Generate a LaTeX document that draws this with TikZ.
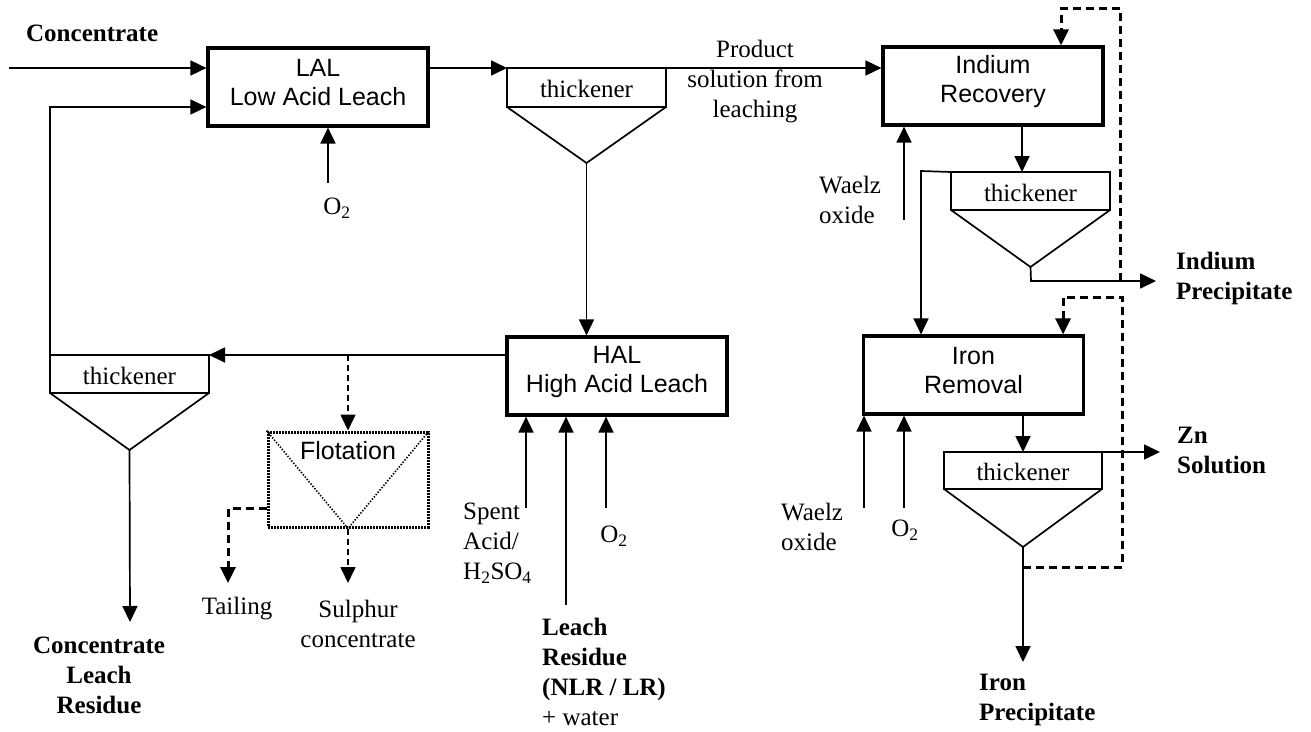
\documentclass[tikz,border=0pt]{standalone}
\usepackage{fontspec}
\setmainfont{Liberation Serif}
\setsansfont{Liberation Sans}
\usetikzlibrary{arrows.meta,calc}
\tikzset{
 ln/.style={line width=1.7pt},
 tip/.style={-{Triangle[length=16pt,width=15pt]}},
 arr/.style={ln,tip},
 box/.style={draw,line width=3.2pt,minimum width=220pt,minimum height=78pt,inner sep=0pt},
 btx/.style={align=center,font=\sffamily\fontsize{25}{29}\selectfont,inner sep=0pt},
 txt/.style={align=center,font=\fontsize{25}{30}\selectfont,inner sep=0pt},
 btxt/.style={align=center,font=\bfseries\fontsize{25}{30}\selectfont,inner sep=0pt},
 dsh/.style={line width=3pt,dash pattern=on 8pt off 5pt},
 tdsh/.style={line width=1.7pt,dash pattern=on 6pt off 4pt},
}
\newcommand{\thk}[6]{%
 \coordinate (#1tl) at (#2,#4);
 \coordinate (#1tr) at (#3,#4);
 \coordinate (#1bl) at (#2,#5);
 \coordinate (#1br) at (#3,#5);
 \coordinate (#1ap) at ({(#2+#3)/2},#6);
 \draw[ln] (#1tl) rectangle (#1br);
 \draw[ln] (#1bl) -- (#1ap) -- (#1br);
 \node[txt] (#1txt) at ($(#1tl)!0.5!(#1br)+(0,1.5)$) {thickener};
}
\begin{document}
\begin{tikzpicture}[x=1pt,y=-1pt]
\useasboundingbox (0,0) rectangle (1311,731);
% boxes
\node[box] (LAL) at (318,87) {};
\node[btx] (LALt) at ($(LAL.center)+(0,-4)$) {LAL\\Low Acid Leach};
\node[box] (HAL) at (617,376) {};
\node[btx] (HALt) at ($(HAL.center)+(0,-4)$) {HAL\\High Acid Leach};
\node[box] (IND) at (993,86) {};
\node[btx] (INDt) at ($(IND.center)+(0,-4)$) {Indium\\Recovery};
\node[box] (IRN) at (973.5,375) {};
\node[btx] (IRNt) at ($(IRN.center)+(0,-4)$) {Iron\\Removal};
% thickeners
\thk{ta}{507}{666}{68}{107}{163}
\thk{tb}{50}{209}{355}{393}{450}
\thk{tc}{951}{1110}{172}{210}{267}
\thk{td}{944}{1102}{452}{489}{547}
% flotation
\node[draw,line width=3pt,dash pattern=on 1.8pt off 1.2pt,minimum width=160pt,minimum height=95pt,inner sep=0pt] (FL) at (348,479.5) {};
\draw[line width=1.6pt,dash pattern=on 1.4pt off 1.6pt] (FL.north west) -- (FL.south) -- (FL.north east);
\node[btx] (FLt) at (348,451) {Flotation};
% labels
\node[btxt,anchor=west] (Lconc) at (26,33) {Concentrate};
\node[txt] (Lo2a) at (337,208) {O\textsubscript{2}};
\node[txt] (Lprod) at (755,82) {Product\\solution from\\leaching};
\node[btxt] (Lclr) at (99,675) {Concentrate\\Leach\\Residue};
\node[txt] (Ltail) at (237,609) {Tailing};
\node[txt] (Lsul) at (358,623.5) {Sulphur\\concentrate};
\node[txt,anchor=west,align=left] (Lspent) at (463,543) {Spent\\Acid/\\H\textsubscript{2}SO\textsubscript{4}};
\node[txt,anchor=west,align=left] (Llr) at (542,672) {\textbf{Leach}\\\textbf{Residue}\\\textbf{(NLR / LR)}\\+ water};
\node[txt] (Lo2b) at (614,536) {O\textsubscript{2}};
\node[txt,anchor=west,align=left] (Lwa) at (819,200) {Waelz\\oxide};
\node[btxt,anchor=west,align=left] (Linp) at (1176,278) {Indium\\Precipitate};
\node[txt,anchor=west,align=left] (Lwb) at (781,527) {Waelz\\oxide};
\node[txt] (Lo2c) at (905,530) {O\textsubscript{2}};
\node[btxt,anchor=west,align=left] (Lzn) at (1177,450) {Zn\\Solution};
\node[btxt,anchor=west,align=left] (Lfep) at (979,700) {Iron\\Precipitate};
% coordinates
\coordinate (cin) at (9,68);
\coordinate (o2a) at (328,183);
\coordinate (fb) at (348,355);
\coordinate (tailend) at (228,583);
\coordinate (sulend) at (348,583);
\coordinate (sp) at (526,508);
\coordinate (lr) at (566,605);
\coordinate (o2b) at (606,508);
\coordinate (clrend) at (130,622);
\coordinate (wa) at (904,220);
\coordinate (indo) at (1022,125);
\coordinate (tcov) at (921,171);
\coordinate (inpj) at (1031,281);
\coordinate (inpend) at (1156,281);
\coordinate (dl1) at (1120,281);
\coordinate (wb) at (864,508);
\coordinate (o2c) at (904,508);
\coordinate (irno) at (1023,413);
\coordinate (znend) at (1160,452);
\coordinate (fepend) at (1023,662);
\coordinate (dl2) at (1023,567);
% connectors
\draw[arr] (cin) -- (cin -| LAL.west);
\draw[arr] (LAL.east |- tatl) -- (tatl);
\draw[arr] (tatr) -- (tatr -| IND.west);
\draw[arr] (o2a) -- (o2a |- LAL.south);
\draw[arr] (taap) -- (taap |- HAL.north);
\draw[arr] (HAL.west |- tbtr) -- (tbtr);
\draw[arr] (tbtl) |- ($(LAL.west)+(0,20)$);
\draw[arr] (tbap) -- (clrend);
\draw[tdsh,tip] (fb) -- (fb |- FL.north);
\draw[dsh,tip] ($(FL.west)+(0,28.5)$) -| (tailend);
\draw[tdsh,tip] (FL.south) -- (sulend);
\draw[arr] (sp) -- (sp |- HAL.south);
\draw[arr] (lr) -- (lr |- HAL.south);
\draw[arr] (o2b) -- (o2b |- HAL.south);
\draw[arr] (wa) -- (wa |- IND.south);
\draw[arr] (indo) -- (indo |- tctl);
\draw[arr] (tctl) -- (tcov) -- (tcov |- IRN.north);
\draw[arr] (tcap) -- (inpj) -- (inpend);
\draw[dsh,tip] (dl1) |- ($(IND.north)+(68,-37)$) -- ($(IND.north)+(68,0)$);
\draw[arr] (wb) -- (wb |- IRN.south);
\draw[arr] (o2c) -- (o2c |- IRN.south);
\draw[arr] (irno) -- (irno |- tdtl);
\draw[arr] (tdtr) -- (znend);
\draw[arr] (tdap) -- (fepend);
\draw[dsh,tip] (dl2) -| (1122,297) -| ($(IRN.north)+(89.5,0)$);
\end{tikzpicture}
\end{document}
